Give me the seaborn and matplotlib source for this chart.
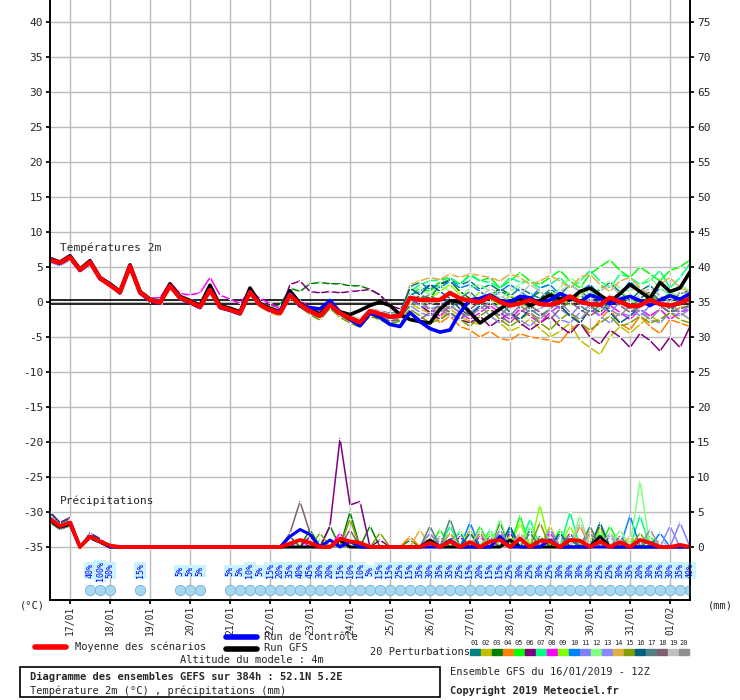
import numpy as np
import pandas as pd
import matplotlib
matplotlib.use("Agg")
import matplotlib.pyplot as plt
import seaborn as sns
from matplotlib.patches import Rectangle

sns.set_theme(style="white")
plt.rcParams['font.family'] = ['DejaVu Sans Mono', 'DejaVu Sans']

# --- DATA ---
hours = list(range(0, 385, 6))
date_labels = ["17/01", "18/01", "19/01", "20/01", "21/01", "22/01", "23/01", "24/01",
               "25/01", "26/01", "27/01", "28/01", "29/01", "30/01", "31/01", "01/02"]

temp_mean = [6.0,5.6,6.4,4.6,5.7,3.4,2.4,1.4,5.1,1.4, 0.3,-0.1,2.3,0.6,0.0,-0.7,1.7,-0.7,-1.1,-1.6,
             1.4,-0.4,-1.1,-1.6,1.0,-0.4,-1.3,-2.0,-0.4,-1.6, -2.3,-2.9,-1.3,-1.7,-2.1,-2.0,0.6,0.3,0.3,0.3,
             1.3,0.5,0.2,0.0,0.8,0.0,-0.5,-0.2,0.3,-0.3, -0.4,0.0,0.8,0.0,-0.3,-0.4,0.6,0.0,-0.6,-0.5,
             0.3,-0.3,-0.5,-0.2,0.5]
temp_control = [6.1,5.5,6.5,4.5,5.8,3.3,2.5,1.3,5.2,1.3, 0.2,-0.2,2.4,0.5,-0.1,-0.8,1.8,-0.8,-1.2,-1.7,
                1.5,-0.3,
                -1.2,-1.4,1.2,-0.6,-0.8,-1.0,0.2,-1.5,-2.5,-3.4, -1.6,-2.2,-3.2,-3.5,-1.5,-2.8,-3.8,-4.3,-4.0,-1.5,
                0.3,0.5,1.0,0.2,0.0,0.8,0.6,-0.2,0.3,1.2, 0.6,0.0,1.0,0.5,-0.3,0.4,0.8,0.2,-0.5,0.3,
                0.9,0.4,1.2]
temp_gfs = [6.2,5.7,6.6,4.7,5.9,3.5,2.6,1.5,5.3,1.5, 0.4,0.0,2.6,0.8,0.2,-0.5,2.4,-0.5,-0.9,-1.4,
            2.0,-0.2,-0.9,-1.4,1.6,-0.2,-1.0,-1.7,-0.2,-1.4,
            -1.8,-1.2,-0.5,0.0,-0.5,-1.8,-2.5,-2.8,-3.0,-1.0, 0.2,0.0,-1.5,-3.0,-2.0,-1.0,0.0,0.5,-0.5,0.2,
            1.0,0.5,0.3,1.5,2.0,1.0,0.0,1.2,2.5,1.5, 0.5,2.8,1.5,2.0,4.3]

temp_p01 = [6.2,5.4,6.5,4.8,5.9,3.2,2.6,1.2,5.3,1.2,0.1,-0.3,2.5,0.4,-0.2,-0.9,1.9,-0.9,-1.3,-1.8,
            1.6,-0.2,-0.8,-1.5,1.2,-0.8,-1.5,-2.3,-0.6,-1.9,-2.6,-3.2,-1.8,-2.4,-2.8,-2.5,2.2,2.8,1.8,2.6,
            3.2,2.4,3.0,1.8,2.5,1.6,0.8,2.0,1.2,0.5,1.8,1.0,2.5,1.5,0.6,1.8,2.8,1.4,0.2,1.6,2.4,0.8,0.0,1.2,1.6]
temp_p02 = [5.8,5.5,6.2,4.5,5.5,3.5,2.3,1.5,5.0,1.5,0.4,0.0,2.2,0.7,0.1,-0.6,1.5,-0.6,-1.0,-1.5,
            1.3,-0.5,-1.3,-1.8,0.8,-0.6,-1.6,-2.4,-0.8,-1.8,-2.6,-3.4,-1.6,-2.0,-2.6,-2.4,-0.2,-1.0,-1.6,-2.2,
            -1.0,-2.0,-2.8,-3.2,-2.0,-3.0,-4.2,-3.5,-2.4,-3.8,-5.0,-4.2,-3.0,-5.5,-6.5,-7.5,-5.0,-3.5,-4.5,-3.2,
            -2.0,-2.8,-1.5,-0.8,-0.5]
temp_p03 = [6.1,5.7,6.3,4.7,5.8,3.3,2.5,1.3,5.2,1.3,0.2,-0.2,2.4,0.5,-0.1,-0.8,1.8,-0.8,-1.2,-1.7,
            1.5,-0.2,-0.6,-0.5,2.0,1.5,2.6,2.8,2.6,2.6,2.3,2.3,1.8,1.0,-0.5,-2.0,0.0,1.0,0.5,2.5,
            3.0,1.5,0.5,-0.5,0.8,2.0,1.0,-0.8,0.5,1.5,0.5,-1.0,0.2,1.2,-0.5,-1.5,0.0,1.0,-0.8,0.5,
            1.5,0.2,-1.0,0.5,1.0]
temp_p04 = [5.9,5.6,6.4,4.4,5.6,3.6,2.2,1.4,4.9,1.6,0.5,0.1,2.1,0.8,0.2,-0.5,1.4,-0.5,-0.9,-1.4,
            1.2,-0.7,-1.5,-2.0,0.6,-0.2,-1.0,-1.8,-0.2,-1.4,-2.2,-2.8,-1.0,-1.5,-2.0,-1.8,0.6,-0.5,-1.5,-3.0,
            -2.0,-3.5,-4.0,-5.0,-4.2,-5.2,-5.5,-4.5,-5.0,-5.2,-5.5,-5.8,-4.0,-3.0,-4.5,-2.5,-1.0,-3.0,-4.0,-2.0,
            -3.5,-4.5,-2.5,-3.0,-3.5]
temp_p05 = [6.0,5.8,6.6,4.6,5.6,3.3,2.5,1.0,5.0,1.1,0.2,-0.3,2.3,0.5,-0.1,-0.9,1.6,-0.9,-1.2,-1.9,
            1.4,-0.5,-1.0,-1.7,0.9,-0.5,-1.4,-2.2,-0.5,-1.8,-2.5,-3.0,-1.5,-1.8,-2.4,-2.2,0.8,2.0,1.5,3.0,
            3.5,2.5,4.0,3.0,3.5,2.0,3.0,4.2,3.0,2.5,3.5,4.5,3.0,2.0,4.0,5.0,6.0,4.5,3.5,5.0,
            4.0,3.0,4.5,5.0,6.0]
temp_p06 = [6.0,5.5,6.3,4.6,5.7,3.4,2.4,1.4,5.1,1.4,0.3,-0.1,2.3,0.6,0.0,-0.7,1.7,-0.7,-1.1,-1.6,
            1.5,-0.3,-1.0,-1.5,2.5,3.0,1.5,1.3,1.5,1.3,1.5,1.6,1.8,1.0,-0.5,-1.0,0.5,-0.5,-1.5,-2.5,
            -1.5,-2.5,-3.0,-2.0,-3.5,-2.5,-1.5,-3.0,-4.0,-3.0,-2.0,-3.5,-4.5,-3.0,-5.0,-6.0,-4.0,-5.0,-6.5,-4.5,
            -5.5,-7.0,-5.0,-6.5,-3.5]
temp_p07 = [6.3,5.6,6.5,4.7,5.8,3.4,2.6,1.5,5.3,1.5,0.3,0.0,2.4,0.7,0.1,-0.6,1.8,-0.6,-1.0,-1.5,
            1.6,-0.3,-0.9,-1.4,1.2,-0.3,-1.2,-2.0,-0.3,-1.5,-2.2,-2.8,-1.2,-1.5,-2.0,-1.7,1.5,2.5,3.0,3.2,
            3.5,2.5,3.8,3.0,2.8,2.0,3.5,2.8,3.0,2.0,2.5,3.5,2.0,3.0,4.5,3.0,2.0,4.0,3.5,2.5,
            3.0,4.5,2.0,3.5,5.5]
temp_p08 = [6.1,5.6,6.4,4.6,5.7,3.4,2.4,1.4,5.1,1.4,0.6,0.6,2.8,1.2,1.0,1.3,3.5,1.0,0.4,-0.2,
            1.6,0.5,-0.2,-1.0,1.2,0.2,-0.8,-1.6,-0.5,-1.6,-2.2,-2.8,-1.2,-1.8,-2.3,-2.0,0.5,0.0,-1.0,-2.0,
            -0.5,-1.5,-2.5,-1.5,-0.5,-1.5,-2.5,-1.0,-2.0,-3.0,-1.5,-0.5,-2.0,-3.0,-1.0,-2.0,-0.5,-1.5,-2.5,-1.0,
            -2.0,-1.0,-2.5,-1.5,-1.0]
temp_p09 = [6.0,5.7,6.5,4.5,5.6,3.5,2.3,1.2,5.0,1.3,0.2,-0.2,2.2,0.5,-0.1,-0.8,1.6,-0.8,-1.2,-1.7,
            1.3,-0.6,-1.2,-1.8,0.8,-0.8,-1.6,-2.5,-0.7,-2.0,-2.8,-3.5,-2.0,-2.6,-3.2,-2.8,0.0,-0.5,0.5,1.5,
            2.5,1.0,0.0,1.5,0.5,-0.5,1.0,0.0,-1.0,0.5,1.5,0.5,-0.5,1.0,2.0,0.5,-0.5,1.5,0.5,-0.5,
            1.0,0.0,1.5,0.5,1.0]
temp_p10 = [6.4,5.8,6.6,4.8,5.9,3.6,2.6,1.6,5.3,1.6,0.5,0.1,2.5,0.8,0.2,-0.5,1.9,-0.5,-0.9,-1.4,
            1.6,-0.2,-0.9,-1.3,1.5,-0.2,-1.0,-1.8,0.5,-1.3,-2.0,-2.6,-1.0,-1.4,-1.8,-1.6,1.0,1.5,2.5,2.0,
            3.0,2.0,2.5,1.5,0.5,1.5,2.5,1.5,0.5,2.0,2.5,1.0,0.0,1.5,2.5,1.0,-0.5,1.0,3.0,1.5,
            0.5,2.0,1.0,0.0,1.5]
temp_p11 = [5.7,5.2,6.0,4.3,5.3,3.2,2.5,1.5,4.8,1.5,0.6,0.3,2.0,0.9,0.4,-0.3,1.5,-0.4,-0.8,-1.3,
            1.2,-0.4,-1.0,-1.4,1.0,-0.4,-1.2,-1.9,-0.4,-1.6,-2.2,-2.7,-1.2,-1.6,-2.0,-1.9,0.2,-0.5,-1.0,-0.5,
            0.5,-0.5,-1.5,-1.0,0.0,-1.0,-2.0,-0.5,-1.5,-1.0,0.0,-1.0,-2.0,-0.5,0.5,-0.5,-1.5,0.0,-1.0,-2.0,
            -0.5,0.5,-1.0,-1.5,-0.5]
temp_p12 = [6.1,5.6,6.4,4.6,5.7,3.4,2.4,1.4,5.1,1.4,0.3,-0.1,2.3,0.6,0.0,-0.7,1.7,-0.7,-1.1,-1.6,
            1.4,-0.4,-1.1,-1.7,1.0,-0.5,-1.5,-2.2,-0.6,-1.8,-2.6,-3.2,-1.5,-2.0,-2.5,-2.3,1.5,2.0,1.0,2.5,
            1.5,0.5,2.0,2.5,1.5,0.5,1.5,2.5,3.0,1.5,0.5,2.0,3.5,2.5,1.0,2.0,3.0,2.0,1.5,2.5,
            3.5,2.0,1.0,2.5,1.5]
temp_p13 = [6.2,5.5,6.3,4.7,5.8,3.3,2.5,1.3,5.2,1.3,0.2,-0.2,2.4,0.5,-0.1,-0.8,1.8,-0.8,-1.2,-1.7,
            1.5,-0.3,-1.2,-1.6,1.1,-0.4,-1.4,-2.1,-0.4,-1.7,-2.4,-3.0,-1.4,-1.9,-2.4,-2.2,-0.5,-1.5,-2.0,-1.0,
            -2.0,-2.5,-1.5,-0.5,-2.0,-3.0,-1.5,-2.5,-3.5,-2.0,-1.0,-2.5,-3.0,-1.5,-0.5,-2.0,-3.0,-1.5,-2.0,-1.0,
            -2.5,-3.0,-1.5,-2.0,-1.0]
temp_p14 = [5.9,5.5,6.3,4.5,5.6,3.5,2.3,1.5,5.0,1.5,0.4,0.0,2.2,0.7,0.1,-0.6,1.6,-0.6,-1.0,-1.5,
            1.3,-0.5,-1.0,-1.5,0.9,-0.5,-1.3,-2.0,-0.5,-1.7,-2.4,-3.0,-1.4,-1.8,-2.2,-2.0,2.5,3.0,3.5,3.2,
            4.0,3.5,4.0,3.8,3.5,3.0,4.0,3.5,2.5,3.0,3.8,3.0,2.0,3.5,4.0,2.5,1.5,3.0,3.5,2.0,
            1.0,2.5,3.5,2.0,1.5]
temp_p15 = [6.0,5.6,6.4,4.6,5.7,3.4,2.4,1.4,5.1,1.4,0.3,-0.1,2.3,0.6,0.0,-0.7,1.7,-0.7,-1.1,-1.6,
            1.4,-0.6,-1.3,-1.9,0.7,-0.7,-1.8,-2.6,-0.9,-2.2,-3.0,-3.6,-2.0,-2.5,-3.0,-2.8,-1.0,-2.0,-3.0,-2.5,
            -1.5,-2.5,-3.5,-2.0,-1.0,-2.5,-3.5,-2.5,-1.5,-3.0,-4.0,-2.5,-1.5,-3.0,-4.0,-3.0,-2.0,-3.5,-3.0,-2.0,
            -3.0,-2.5,-1.5,-2.5,-3.0]
temp_p16 = [6.2,5.7,6.5,4.7,5.8,3.5,2.5,1.5,5.2,1.5,0.4,0.0,2.6,0.7,0.1,-0.6,1.9,-0.6,-1.0,-1.5,
            1.8,-0.2,-0.8,-1.3,1.6,-0.1,-1.0,-1.6,-0.2,-1.3,-2.0,-2.5,-1.0,-1.3,-1.6,-1.5,2.0,1.0,2.5,1.5,
            0.5,-1.0,-2.0,-0.5,1.0,0.0,-1.5,-2.5,-1.0,0.5,1.5,-0.5,-2.0,-3.0,-1.0,0.5,-1.5,-3.0,-2.0,-0.5,
            1.0,-0.5,-1.5,0.5,1.0]
temp_p17 = [6.1,5.5,6.4,4.6,5.6,3.4,2.4,1.3,5.1,1.4,0.3,-0.2,2.3,0.5,0.0,-0.8,1.7,-0.8,-1.2,-1.7,
            1.5,-0.4,-1.1,-1.6,1.1,-0.5,-1.3,-2.1,-0.5,-1.7,-2.4,-3.0,-1.4,-2.0,-2.5,-2.3,-0.5,0.5,1.0,0.0,
            -1.0,0.5,1.5,0.0,-1.0,-2.0,-0.5,0.5,-1.0,-2.0,-1.0,0.5,1.0,-0.5,-1.5,-0.5,1.0,0.0,-1.0,0.5,
            1.5,0.0,-1.0,0.5,0.0]
temp_p18 = [5.9,5.4,6.2,4.5,5.5,3.3,2.3,1.3,5.0,1.3,0.2,-0.2,2.2,0.5,-0.1,-0.8,1.6,-0.8,-1.2,-1.7,
            1.3,-0.6,-1.3,-1.8,0.8,-0.7,-1.6,-2.3,-0.8,-1.9,-2.7,-3.3,-1.7,-2.2,-2.7,-2.5,-1.5,-2.5,-1.5,-0.5,
            -1.5,-2.5,-1.0,0.0,-1.0,-2.0,-3.0,-1.5,-0.5,-1.5,-2.5,-1.0,0.0,-1.0,-2.0,-1.0,0.5,-0.5,-1.5,-0.5,
            0.5,-0.5,-1.5,-1.0,-0.5]
temp_p19 = [6.3,5.9,6.7,4.9,6.0,3.7,2.7,1.7,5.4,1.7,0.6,0.2,2.6,0.9,0.3,-0.4,2.0,-0.4,-0.8,-1.3,
            1.7,0.0,-0.7,-1.2,1.3,-0.2,-1.0,-1.7,-0.2,-1.2,-1.9,-2.5,-0.9,-1.3,-1.7,-1.5,1.0,0.5,-0.5,0.5,
            1.5,0.5,-0.5,0.5,2.0,1.0,0.0,1.0,2.5,1.5,0.5,1.5,2.5,1.5,0.0,1.5,2.5,1.0,0.0,1.0,
            2.0,1.0,0.0,1.5,1.0]
temp_p20 = [6.0,5.6,6.3,4.6,5.7,3.4,2.4,1.4,5.1,1.4,0.3,-0.1,2.3,0.6,0.0,-0.7,1.7,-0.7,-1.1,-1.6,
            1.4,-0.5,-1.2,-1.7,0.9,-0.6,-1.5,-2.2,-0.6,-1.8,-2.5,-3.1,-1.5,-2.0,-2.5,-2.3,0.5,0.0,-1.0,-1.5,
            -0.5,-1.5,-2.0,-1.0,0.0,-1.0,-2.0,-0.5,-1.5,-2.5,-1.0,0.0,-1.5,-2.5,-1.0,0.0,-1.0,-2.0,-0.5,-1.5,
            -2.5,-1.0,0.0,-1.5,-2.5]

# precipitation (mm) per 6h step, only the non-zero steps {step index: mm}
rr_mean = {0:4.0,1:3.0,2:3.5,4:1.5,5:0.8,6:0.2,24:0.5,25:1.0,26:0.6,29:1.2,30:0.8,31:0.6,38:0.6,40:0.8,
           42:0.7,44:0.8,45:1.0,47:1.2,49:0.9,50:0.8,52:1.0,53:0.9,55:0.8,57:0.7,59:1.0,60:0.6,63:0.3}
rr_control = {0:4.0,1:3.0,2:3.5,4:1.5,5:0.8,24:1.5,25:2.5,26:1.8,28:1.0,30:0.8,40:1.0,45:1.5,50:1.0}
rr_gfs = {0:3.8,1:2.8,2:3.3,4:1.4,5:0.7,29:1.0,38:1.0,46:1.0,55:1.5}
rr_p01 = {0:4.5,1:3.0,2:3.8,4:1.5,5:0.8,6:0.2,40:1.0,41:2.0,44:1.5,48:2.5,52:1.0,56:2.0,60:1.0}
rr_p02 = {0:3.5,1:2.5,2:3.0,4:1.8,5:1.0,38:1.0,42:2.5,46:1.5,50:3.0,54:1.5,58:1.0}
rr_p03 = {0:4.0,1:3.2,2:3.6,4:1.2,5:0.6,24:1.5,26:2.5,28:3.0,30:5.0,32:3.0,36:1.0,40:2.0,45:3.5,49:1.5}
rr_p04 = {0:3.8,1:2.8,2:3.2,4:1.6,5:0.9,36:1.5,38:2.0,42:1.0,47:2.0,53:3.0,57:1.5}
rr_p05 = {0:4.2,1:3.0,2:4.0,4:1.3,5:0.7,27:1.0,39:2.5,43:3.0,47:4.5,51:2.5,56:3.0,60:1.5}
rr_p06 = {0:5.0,1:3.5,2:4.2,4:2.0,5:1.2,26:1.5,28:3.0,29:15.5,30:6.0,31:6.5,33:1.0,41:1.5,46:2.0}
rr_p07 = {0:4.0,1:2.9,2:3.4,4:1.4,5:0.8,40:3.0,44:2.5,48:4.0,52:5.0,55:2.0,59:4.5}
rr_p08 = {0:3.6,1:2.6,2:3.1,4:1.7,5:0.9,25:1.0,29:2.0,43:1.5,50:2.0}
rr_p09 = {0:4.4,1:3.1,2:3.7,4:1.5,5:0.8,44:2.0,47:3.5,49:6.0,52:3.0,55:2.5}
rr_p10 = {0:3.9,1:2.7,2:3.3,4:1.2,5:0.6,42:3.5,46:2.5,52:1.5,58:4.5,61:2.0}
rr_p11 = {0:4.6,1:3.3,2:3.9,4:1.8,5:1.0,39:1.0,45:2.0,51:1.5,57:1.0,63:3.5}
rr_p12 = {0:4.1,1:2.9,2:3.5,4:1.3,5:0.7,41:2.5,45:4.0,48:3.0,53:4.5,57:2.5,59:9.5}
rr_p13 = {0:3.7,1:2.6,2:3.0,4:1.6,5:0.8,38:2.0,44:1.0,50:2.5,56:1.5,62:3.0}
rr_p14 = {0:4.3,1:3.0,2:3.6,4:1.4,5:0.7,37:2.5,40:2.0,47:1.5,54:2.5,58:1.5}
rr_p15 = {0:4.0,1:2.8,2:3.4,4:1.5,5:0.8,27:2.0,30:4.0,33:2.0,43:2.0,49:3.5,55:3.0,59:2.0}
rr_p16 = {0:4.8,1:3.4,2:4.0,4:1.9,5:1.1,42:2.0,46:3.0,51:2.0,55:3.5}
rr_p17 = {0:3.5,1:2.5,2:3.1,4:1.3,5:0.6,38:3.0,40:4.0,48:2.0,54:3.0,57:1.5}
rr_p18 = {0:4.2,1:3.0,2:3.5,4:1.6,5:0.9,24:2.0,25:6.5,26:2.0,28:1.0,30:2.5,44:1.0,52:2.0}
rr_p19 = {0:4.5,1:3.2,2:3.8,4:1.5,5:0.9,43:2.5,47:2.0,53:3.5,56:2.0,61:1.0}
rr_p20 = {0:3.9,1:2.7,2:3.3,4:1.4,5:0.7,39:1.5,45:2.5,50:1.5,54:2.0,60:2.5}

# share of scenarios with snow (%)
snow_hours = [24, 30, 36, 54, 78, 84, 90] + list(range(108, 385, 6))
snow_pct = [40, 100, 50, 15, 5, 5, 5,
            5, 5, 10, 5, 15, 20, 35, 40, 45, 30, 20, 15, 10, 10, 5, 15, 15, 25, 15, 35, 30, 35, 35, 25,
            15, 20, 15, 15, 25, 30, 25, 30, 25, 30, 30, 30, 30, 25, 25, 30, 35, 20, 30, 35, 30, 35, 40]

pert_colors = ["#008080", "#c0c000", "#008000", "#ff8000", "#00ff00", "#800080", "#00ff80",
               "#ff00ff", "#80ff00", "#0080ff", "#8080ff", "#80ff80", "#8888ff", "#e0b040",
               "#80a000", "#006080", "#508080", "#806070", "#c0c0c0", "#909090"]

temps = [temp_p01, temp_p02, temp_p03, temp_p04, temp_p05, temp_p06, temp_p07, temp_p08, temp_p09, temp_p10,
         temp_p11, temp_p12, temp_p13, temp_p14, temp_p15, temp_p16, temp_p17, temp_p18, temp_p19, temp_p20]
rrs = [rr_p01, rr_p02, rr_p03, rr_p04, rr_p05, rr_p06, rr_p07, rr_p08, rr_p09, rr_p10,
       rr_p11, rr_p12, rr_p13, rr_p14, rr_p15, rr_p16, rr_p17, rr_p18, rr_p19, rr_p20]


def rr_list(d):
    return [d.get(i, 0.0) for i in range(len(hours))]


rows = []
for k, (t, r) in enumerate(zip(temps, rrs)):
    rl = rr_list(r)
    for i, h in enumerate(hours):
        rows.append({'h': h, 'temp': t[i], 'rr': rl[i], 'member': f"{k+1:02d}"})
df = pd.DataFrame(rows)
palette = {f"{k+1:02d}": c for k, c in enumerate(pert_colors)}

# --- FIGURE ---
fig = plt.figure(figsize=(7.4, 7.0), dpi=100)
fig.patch.set_facecolor('white')
ax = fig.add_axes([50/740, 1-600/700, 640/740, 600/700])
ymin, ymax = -42.57, 43.14
ax.set_xlim(0, 384)
ax.set_ylim(ymin, ymax)
ax2 = ax.twinx()
ax2.set_ylim(ymin + 35, ymax + 35)
ax2.set_xlim(0, 384)

for y in range(-35, 41, 5):
    ax.axhline(y, color='#bbbbbb', lw=1, zorder=0)
for h in range(12, 384, 24):
    ax.axvline(h, color='#bbbbbb', lw=1, zorder=0)
ax.axhline(0.22, color='black', lw=1.2, zorder=1)
ax.axhline(-0.22, color='black', lw=1.2, zorder=1)

line_kw = dict(estimator=None, lw=1.1, marker='+', markersize=2.5, markeredgewidth=0.6,
               legend=False, dashes=False)

# temperature
sns.lineplot(data=df, x='h', y='temp', hue='member', palette=palette, ax=ax, **line_kw)
sns.lineplot(x=hours, y=temp_gfs, color='black', lw=2.6, ax=ax)
sns.lineplot(x=hours, y=temp_control, color='#0000ff', lw=2.6, ax=ax)
sns.lineplot(x=hours, y=temp_mean, color='#ff0000', lw=3.2, ax=ax)

# precipitation on right axis
sns.lineplot(data=df, x='h', y='rr', hue='member', palette=palette, ax=ax2, **line_kw)
sns.lineplot(x=hours, y=rr_list(rr_gfs), color='black', lw=2.2, ax=ax2)
sns.lineplot(x=hours, y=rr_list(rr_control), color='#0000ff', lw=2.2, ax=ax2)
sns.lineplot(x=hours, y=rr_list(rr_mean), color='#ff0000', lw=2.8, ax=ax2)

# snow probability band
for h, p in zip(snow_hours, snow_pct):
    ax.text(h, -38.4, f"{p}%", rotation=90, ha='center', va='center', fontsize=6,
            color='#0000ff', bbox=dict(facecolor='#c8f4ff', edgecolor='none', pad=0.8))
ax.scatter(snow_hours, [-41.1] * len(snow_hours), s=55, color='#a8d8f0',
           edgecolor='#70b0d8', linewidth=0.6, zorder=3)

ax.text(6, 7.7, "Températures 2m", fontsize=8, va='center')
ax.text(6, -28.4, "Précipitations", fontsize=8, va='center')

# axes styling
ax.set_yticks(range(-35, 41, 5))
ax.set_yticklabels([str(v) for v in range(-35, 41, 5)], fontsize=8)
ax2.set_yticks(range(0, 76, 5))
ax2.set_yticklabels([str(v) for v in range(0, 76, 5)], fontsize=8)
ax.set_xticks(range(12, 384, 24))
ax.set_xticklabels(date_labels, rotation=90, fontsize=7)
ax.set_xlabel("")
ax.set_ylabel("")
ax2.set_ylabel("")
for a in (ax, ax2):
    a.spines['top'].set_visible(False)
    for s in ('left', 'right', 'bottom'):
        a.spines[s].set_color('black')
        a.spines[s].set_linewidth(1.2)
    a.tick_params(length=3, color='black', pad=2)
ax.tick_params(axis='y', left=True, right=False)
ax2.tick_params(axis='y', right=True)
ax.tick_params(axis='x', bottom=True, pad=1)

# --- LEGEND AND CAPTIONS (figure pixel coordinates) ---
def fx(x):
    return x / 740


def fy(y):
    return 1 - y / 700


fs = 7.5
fig.text(fx(20), fy(606), "(°C)", fontsize=fs, va='center')
fig.text(fx(708), fy(606), "(mm)", fontsize=fs, va='center')

fig.lines.append(plt.Line2D([fx(35), fx(66)], [fy(647), fy(647)], color='#ff0000', lw=4, transform=fig.transFigure))
fig.text(fx(75), fy(647), "Moyenne des scénarios", fontsize=fs, va='center')
fig.lines.append(plt.Line2D([fx(226), fx(257)], [fy(637), fy(637)], color='#0000ff', lw=4, transform=fig.transFigure))
fig.text(fx(264), fy(637), "Run de contrôle", fontsize=fs, va='center')
fig.lines.append(plt.Line2D([fx(226), fx(257)], [fy(649), fy(649)], color='black', lw=4, transform=fig.transFigure))
fig.text(fx(264), fy(648), "Run GFS", fontsize=fs, va='center')
fig.text(fx(180), fy(660), "Altitude du modele : 4m", fontsize=fs, va='center')
fig.text(fx(370), fy(652), "20 Perturbations", fontsize=fs, va='center')
for k, c in enumerate(pert_colors):
    x0 = 470 + k * 11
    fig.patches.append(Rectangle((fx(x0), fy(655)), fx(10), 6 / 700, color=c, transform=fig.transFigure))
    fig.text(fx(x0 + 5), fy(643), f"{k+1:02d}", fontsize=5, ha='center', va='center')

fig.patches.append(Rectangle((fx(20), fy(697)), fx(420), 30 / 700, fill=False, edgecolor='black',
                             lw=1.2, transform=fig.transFigure))
fig.text(fx(30), fy(677), "Diagramme des ensembles GEFS sur 384h : 52.1N 5.2E", fontsize=fs,
         fontweight='bold', va='center')
fig.text(fx(30), fy(691), "Température 2m (°C) , précipitations (mm)", fontsize=fs, va='center')
fig.text(fx(450), fy(672), "Ensemble GFS du 16/01/2019 - 12Z", fontsize=fs, va='center')
fig.text(fx(450), fy(691), "Copyright 2019 Meteociel.fr", fontsize=fs, fontweight='bold', va='center')

fig.savefig("out.png", dpi=100, facecolor='white')
plt.close(fig)
